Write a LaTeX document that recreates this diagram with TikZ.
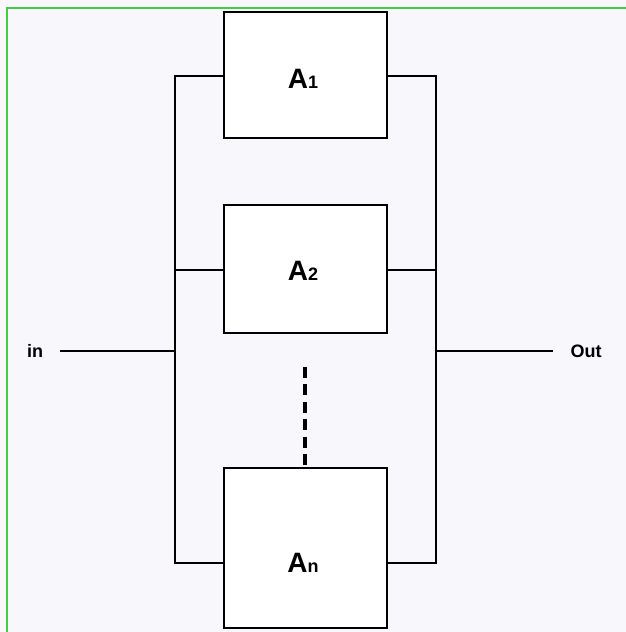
\documentclass[tikz,border=0pt]{standalone}
\usepackage{fontspec}
\setmainfont{Liberation Sans}
\definecolor{bgc}{HTML}{F7F7FC}
\definecolor{frame}{HTML}{44CC44}
\begin{document}
\begin{tikzpicture}[x=1pt,y=-1pt,
  blk/.style={draw=black,fill=white,line width=2pt,minimum width=163pt,inner sep=0pt},
  wire/.style={draw=black,line width=2pt},
  lbl/.style={font=\fontsize{28}{30}\selectfont\bfseries,inner sep=0pt},
  io/.style={font=\fontsize{18}{20}\selectfont\bfseries,inner sep=0pt}]
\useasboundingbox (0,0) rectangle (626,632);
\fill[bgc] (0,0) rectangle (626,632);
\draw[frame,line width=2pt] (7,640) -- (7,8) -- (640,8);
% blocks
\node[blk,minimum height=126pt] (A1) at (305.5,75) {};
\node[blk,minimum height=128pt] (A2) at (305.5,269) {};
\node[blk,minimum height=160pt] (An) at (305.5,548) {};
\node[lbl] (t1) at (303,79) {A\fontsize{18}{20}\selectfont 1};
\node[lbl] (t2) at (303,271) {A\fontsize{18}{20}\selectfont 2};
\node[lbl] (tn) at (303,563) {A\fontsize{18}{20}\selectfont n};
% bus coordinates
\coordinate (L1) at (174.5,76);
\coordinate (L2) at (174.5,270);
\coordinate (Lm) at (174.5,351);
\coordinate (Ln) at (174.5,563);
\coordinate (R1) at (435.5,76);
\coordinate (R2) at (435.5,270);
\coordinate (Rm) at (435.5,351);
\coordinate (Rn) at (435.5,563);
\draw[wire,line join=miter] (A1.west |- L1) -- (L1) -- (Ln) -- (An.west |- Ln);
\draw[wire,line join=miter] (A1.east |- R1) -- (R1) -- (Rn) -- (An.east |- Rn);
\draw[wire] (L2) -- (A2.west |- L2);
\draw[wire] (R2) -- (A2.east |- R2);
% in / out
\node[io] (in) at (35,351) {in};
\node[io] (out) at (586,351) {Out};
\draw[wire,shorten <=17pt] (in.east) -- (Lm);
\draw[wire,shorten >=17pt] (Rm) -- (out.west);
% dots
\coordinate (d1) at (305,367);
\coordinate (d2) at (305,465);
\draw[line width=3.5pt,dash pattern=on 11pt off 6.4pt] (d1) -- (d2);
\end{tikzpicture}
\end{document}
